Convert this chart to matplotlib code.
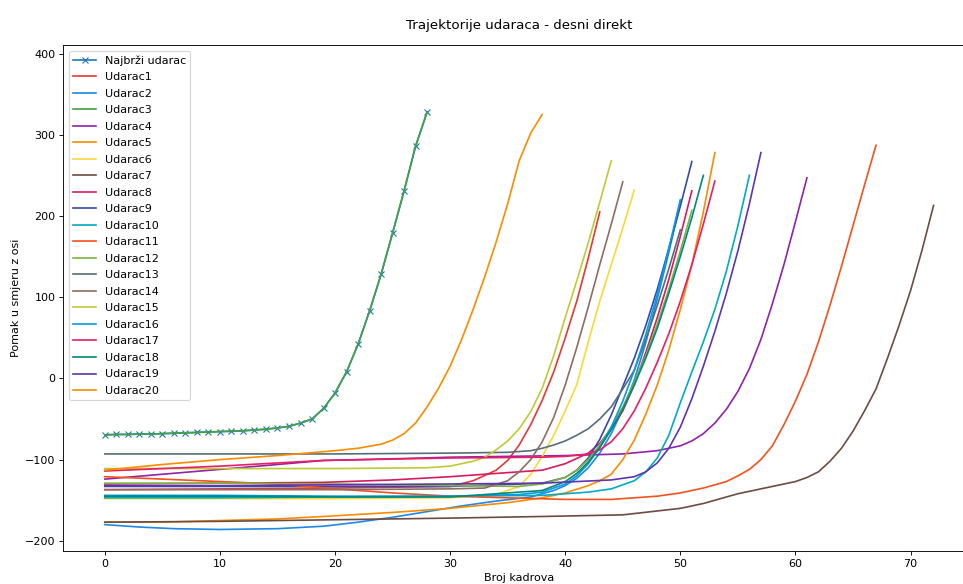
import matplotlib
matplotlib.use('Agg')
import matplotlib.pyplot as plt

# Najbrzi udarac (= Udarac3), jedna tocka po kadru
x3 = list(range(29))
y3 = [-69.5, -69, -69, -68.5, -68.5, -68, -67.5, -67, -66.5, -66, -65.5, -65, -64.5, -63.5,
      -62.5, -61, -59, -55, -50, -37, -18, 8, 42, 83, 128, 179, 231, 286, 328]

# Ostali udarci (kadar, pomak)
x1 = [0, 10, 20, 30, 32, 34, 35, 36, 37, 38, 39, 40, 41, 42, 43]
y1 = [-137, -136, -135, -133, -126, -113, -101, -82, -57, -27, 8, 50, 95, 148, 205]

x2 = [0, 3, 6, 10, 15, 19, 22, 25, 28, 31, 34, 37, 39, 40, 41, 42, 43, 44, 45, 46, 47, 48, 49, 50]
y2 = [-180, -183, -185, -186, -185, -182, -177, -171, -164, -157, -151, -146, -138, -132, -123,
      -110, -92, -68, -38, -2, 44, 98, 155, 218]

x4 = [0, 5, 10, 15, 19, 25, 30, 35, 40, 45, 48, 50, 51, 52, 53, 54, 55, 56, 57, 58, 59, 60, 61]
y4 = [-124, -118, -112, -106, -101, -99, -97, -96, -95, -93, -89, -83, -77, -68, -55, -38, -16,
      12, 48, 92, 140, 193, 247]

x5 = [0, 5, 10, 15, 19, 25, 30, 35, 38, 40, 42, 43, 44, 45, 46, 47, 48, 49, 50, 51, 52, 53]
y5 = [-177, -177, -175, -173, -170, -165, -160, -153, -147, -141, -132, -126, -118, -100, -76,
      -44, -8, 35, 85, 140, 205, 278]

x6 = [0, 10, 20, 30, 34, 36, 37, 38, 39, 40, 41, 42, 43, 44, 45, 46]
y6 = [-148, -148, -148, -147, -143, -133, -118, -96, -70, -40, -8, 45, 95, 140, 185, 232]

x7 = [0, 10, 20, 30, 38, 45, 50, 52, 55, 58, 60, 61, 62, 63, 64, 65, 66, 67, 68, 69, 70, 71, 72]
y7 = [-177, -176, -174, -172, -170, -168, -160, -154, -142, -133, -127, -122, -115, -102, -86,
      -65, -40, -13, 25, 65, 108, 158, 213]

x8 = [0, 10, 19, 25, 30, 35, 38, 40, 42, 43, 44, 45, 46, 47, 48, 49, 50, 51]
y8 = [-130, -129, -128, -125, -121, -116, -113, -105, -92, -80, -62, -40, -8, 32, 75, 122, 175, 231]

x9 = [0, 10, 20, 30, 38, 40, 41, 42, 43, 44, 45, 46, 47, 48, 49, 50, 51]
y9 = [-133, -133, -133, -133, -129, -122, -113, -98, -75, -45, -10, 25, 65, 110, 160, 212, 267]

x10 = [0, 10, 20, 30, 38, 42, 44, 46, 47, 48, 49, 50, 51, 52, 53, 54, 55, 56]
y10 = [-147, -147, -146, -145, -144, -140, -136, -126, -115, -98, -70, -30, 8, 45, 85, 132, 188, 250]

x11 = [0, 5, 10, 15, 20, 25, 30, 35, 40, 44, 48, 50, 52, 54, 55, 56, 57, 58, 59, 60, 61, 62, 63,
       64, 65, 66, 67]
y11 = [-121, -124, -127, -130, -136, -141, -145, -147, -149, -149, -145, -141, -135, -127, -120,
       -112, -100, -83, -57, -28, 5, 45, 90, 138, 188, 238, 287]

x12 = [0, 10, 20, 30, 36, 38, 40, 41, 42, 43, 44, 45, 46, 47, 48, 49, 50, 51]
y12 = [-129, -129, -130, -132, -133, -130, -122, -113, -100, -82, -60, -35, -5, 28, 67, 110, 157, 207]

x13 = [0, 10, 20, 30, 35, 37, 38, 39, 40, 41, 42, 43, 44, 45, 46, 47, 48, 49, 50]
y13 = [-93, -93, -93, -92, -91, -89, -86, -82, -77, -70, -62, -50, -35, -13, 10, 48, 90, 135, 183]

x14 = [0, 10, 20, 30, 33, 35, 36, 37, 38, 39, 40, 41, 42, 43, 44, 45]
y14 = [-137, -137, -137, -136, -135, -126, -115, -100, -78, -48, -8, 38, 88, 140, 190, 242]

x15 = [0, 10, 20, 28, 30, 32, 33, 34, 35, 36, 37, 38, 39, 40, 41, 42, 43, 44]
y15 = [-111, -111, -111, -110, -108, -102, -97, -88, -77, -62, -41, -12, 28, 75, 120, 167, 217, 268]

x16 = [0, 10, 20, 30, 36, 38, 40, 41, 42, 43, 44, 45, 46, 47, 48, 49, 50]
y16 = [-144, -144, -145, -145, -143, -140, -130, -120, -105, -85, -60, -28, 10, 54, 104, 160, 220]

x17 = [0, 10, 19, 30, 38, 40, 42, 43, 44, 45, 46, 47, 48, 49, 50, 51, 52, 53]
y17 = [-114, -108, -101, -98, -97, -96, -93, -88, -78, -62, -40, -12, 20, 55, 95, 140, 190, 243]

x18 = [0, 10, 20, 30, 38, 40, 41, 42, 43, 44, 45, 46, 47, 48, 49, 50, 51, 52]
y18 = [-145, -145, -146, -146, -138, -127, -117, -103, -85, -63, -38, -8, 25, 62, 105, 150, 198, 250]

x19 = [0, 10, 20, 30, 38, 44, 46, 47, 48, 49, 50, 51, 52, 53, 54, 55, 56, 57]
y19 = [-132, -132, -131, -130, -129, -125, -121, -115, -104, -86, -60, -25, 15, 58, 105, 157, 215, 278]

x20 = [0, 5, 10, 15, 20, 22, 24, 25, 26, 27, 28, 29, 30, 31, 32, 33, 34, 35, 36, 37, 38]
y20 = [-113, -106, -100, -95, -89, -86, -81, -76, -68, -55, -35, -12, 15, 48, 85, 125, 168, 215,
       268, 302, 325]

xs = [x1, x2, x3, x4, x5, x6, x7, x8, x9, x10, x11, x12, x13, x14, x15, x16, x17, x18, x19, x20]
ys = [y1, y2, y3, y4, y5, y6, y7, y8, y9, y10, y11, y12, y13, y14, y15, y16, y17, y18, y19, y20]

boje = ['#e53935', '#1e88e5', '#43a047', '#8e24aa', '#fb8c00', '#fdd835', '#6d4c41', '#d81b60',
        '#3949ab', '#00acc1', '#f4511e', '#7cb342', '#546e7a', '#8d6e63', '#c0ca33', '#039be5',
        '#e91e63', '#00897b', '#5e35b1', '#fb8c00']

DPI = 963 / 12
fig = plt.figure(figsize=(12, 584 / DPI), dpi=DPI)
ax = fig.add_axes([63.4 / 963, 1 - 551 / 584, 911.6 / 963, 506 / 584])

ax.plot(x3, y3, marker='x', color='tab:blue', label='Najbrži udarac')
for i in range(20):
    ax.plot(xs[i], ys[i], color=boje[i], label=f'Udarac{i + 1}')

ax.set_ylim(-212.5, 410.5)
ax.set_xlabel('Broj kadrova')
ax.set_ylabel('Pomak u smjeru z osi')
ax.set_title('Trajektorije udaraca - desni direkt', pad=14)
ax.legend(loc='upper left', labelspacing=0.585)

plt.savefig('out.png', dpi=DPI)
